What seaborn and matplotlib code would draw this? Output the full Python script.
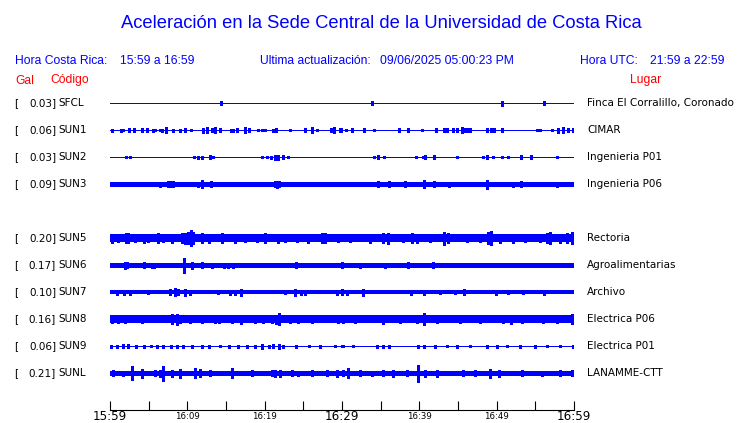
import matplotlib
matplotlib.use('Agg')
import matplotlib.pyplot as plt
import matplotlib.transforms as mtransforms
import seaborn as sns
import pandas as pd

# Station table (SUN4 row is empty in the reference)
codes = ["SFCL", "SUN1", "SUN2", "SUN3", None, "SUN5", "SUN6", "SUN7", "SUN8", "SUN9", "SUNL"]
gal = ["0.03", "0.06", "0.03", "0.09", None, "0.20", "0.17", "0.10", "0.16", "0.06", "0.21"]
places = ["Finca El Corralillo, Coronado", "CIMAR", "Ingenieria P01", "Ingenieria P06", None,
          "Rectoria", "Agroalimentarias", "Archivo", "Electrica P06", "Electrica P01", "LANAMME-CTT"]
# background noise half-amplitude of each trace (1 unit = 1/27 of trace spacing)
noise = [0.5, 0.5, 0.5, 2.5, None, 4.0, 2.5, 2.0, 3.2, 0.5, 2.5]

# bursts: minutes after 15:59 and half-amplitude
SFCL_T = [14.3, 33.9, 50.7, 56.1]
SFCL_A = [2, 2, 2.5, 2]
SUN1_T = [0.3, 1.38, 1.72, 2.5, 3.14, 4.09, 4.78, 5.51, 5.82, 6.46, 6.68, 7.24, 8.14, 9.0, 9.69,
          10.47, 12.06, 12.5, 13.14, 13.57, 14.22, 15.64, 15.94, 16.46, 17.45, 17.97, 19.09, 19.69,
          20.04, 21.12, 21.42, 23.31, 25.25, 26.07, 26.72, 28.57, 29.0, 29.74, 29.83, 30.52, 31.25,
          32.84, 34.18, 37.41, 38.49, 40.3, 42.11, 43.19, 43.53, 44.39, 44.82, 45.47, 45.9, 46.25,
          46.55, 48.7, 49.22, 49.65, 50.69, 55.17, 55.6, 57.11, 57.97, 58.53, 59.26, 59.91]
SUN1_A = [1.5, 1.5, 1, 2, 2, 2, 2, 1.5, 1, 1, 1.5, 3, 1.5, 1.5, 2,
          1, 2.5, 3, 2, 3, 2, 1.5, 1.5, 2, 3, 2, 1, 1,
          1, 1.5, 2, 1, 2, 3, 1, 2, 3, 2, 2, 1, 2,
          2, 1, 2, 2, 1, 2, 2, 2, 2, 2, 3, 2, 2,
          2, 2, 2, 2, 2, 1, 1, 1, 2.5, 3, 2, 2]
SUN2_T = [2.02, 2.63, 10.9, 11.42, 11.85, 12.93, 13.36, 19.69, 20.25, 20.77, 21.33, 21.6, 21.76,
          22.41, 22.97, 34.18, 34.7, 35.47, 39.52, 40.43, 40.73, 41.89, 44.91, 48.27, 48.79, 49.48,
          50.64, 51.51, 53.14, 54.39, 57.84]
SUN2_A = [1, 1, 1, 1.5, 1.5, 2, 1, 1, 1, 1.5, 2.5, 2.5, 2.5,
          2, 1, 1, 2, 1, 1, 1, 2, 2, 1, 1, 2, 1,
          1, 1, 2, 2, 1]
SUN3_T = [6.5, 7.54, 7.8, 8.1, 11.42, 11.94, 13.06, 21.33, 21.6, 21.85, 34.7, 36.03, 38.18, 40.64,
          41.89, 43.88, 47.34, 48.79, 50.6, 52.15, 53.19, 57.84]
SUN3_A = [2.5, 3, 3, 3, 2.5, 4, 3, 3, 3.5, 3, 3, 3, 3, 4,
          3, 2.5, 2, 4.5, 2, 2.5, 3, 2.5]
SUN5_T = [0.21, 1.07, 2.02, 2.28, 3.23, 4.44, 4.95, 6.16, 6.89, 7.97, 9.26, 9.69, 10.12, 10.43,
          10.77, 11.85, 12.8, 14.44, 16.16, 17.45, 18.96, 20.04, 21.76, 22.62, 24.13, 25.64, 27.37,
          27.8, 29.52, 31.03, 33.62, 35.34, 35.99, 37.93, 39.01, 39.65, 41.38, 43.19, 43.75, 46.12,
          47.84, 48.92, 49.22, 50.43, 52.15, 53.66, 55.6, 56.46, 56.89, 58.19, 59.05, 59.78]
SUN5_A = [4.5, 4, 5, 5, 4, 4.5, 4, 5, 4, 4.5, 5, 5.5, 6, 8,
          6, 5, 4.5, 5, 4.5, 4, 4, 5, 4.5, 4, 4, 4.5, 5,
          5, 4, 4, 4.5, 5, 5.5, 4, 5, 4.5, 4, 6.5, 5, 4,
          4, 6, 7, 4.5, 4.5, 4, 4, 5, 6, 4.5, 5, 6]
SUN6_T = [1.94, 2.15, 4.44, 5.38, 5.73, 9.61, 10.56, 11.85, 13.14, 14.78, 15.3, 15.94, 24.0,
          29.95, 32.33, 35.56, 38.58, 39.65, 40.95, 41.81]
SUN6_A = [3.5, 3, 3, 2.5, 2.5, 7.5, 3.5, 3, 2.5, 2.5, 2.5, 2.5, 3,
          3, 2.5, 2.5, 3, 2, 2, 3]
SUN7_T = [0.86, 1.81, 2.58, 4.87, 7.75, 8.4, 8.75, 9.69, 10.34, 13.92, 15.51, 16.16, 16.94, 22.62,
          23.92, 24.69, 25.21, 29.3, 29.95, 30.6, 32.67, 38.88, 40.6, 42.67, 44.61, 45.77, 49.91,
          51.51, 53.45, 56.12]
SUN7_A = [2.5, 2.5, 2.5, 2, 3, 4, 3, 3.5, 2.5, 2, 2.5, 2.5, 3.5, 2,
          3.5, 2.5, 2.5, 2.5, 3, 2.5, 3.5, 2.5, 2.5, 2, 2, 3, 2.5,
          2, 2, 2.5]
SUN8_T = [0.21, 1.07, 1.94, 2.8, 4.09, 5.38, 7.97, 8.62, 9.05, 10.34, 11.85, 13.57, 14.09, 15.73,
          16.94, 18.74, 19.82, 20.9, 21.42, 21.85, 23.27, 24.35, 26.07, 27.15, 28.14, 29.52, 30.17,
          31.68, 35.34, 37.5, 39.65, 40.64, 42.24, 45.26, 47.84, 49.13, 50.86, 51.81, 53.23, 56.03,
          57.76, 59.69]
SUN8_A = [3.5, 3.5, 3.5, 3, 3.5, 3, 5, 5.5, 4, 3.5, 3.5, 4, 3.5, 3.5,
          4.5, 3.5, 3.5, 4, 4.5, 6, 3.5, 4, 4, 3, 3, 3.5, 3.5,
          3.5, 4.5, 3.5, 3.5, 6, 3.5, 3.5, 3.5, 3, 3.5, 4.5, 4, 3.5,
          3.5, 5]
SUN9_T = [0.13, 0.86, 1.72, 2.37, 3.32, 4.44, 5.3, 6.03, 6.89, 7.88, 8.62, 9.48, 10.64, 11.85,
          12.8, 14.22, 15.38, 16.59, 17.67, 18.74, 19.69, 20.56, 21.12, 21.85, 22.41, 24.0, 25.73,
          27.15, 29.09, 29.95, 30.17, 31.46, 34.48, 35.34, 36.12, 39.87, 40.6, 42.02, 43.53, 44.91,
          46.55, 48.7, 49.99, 51.29, 53.01, 54.95, 56.46, 58.19, 59.91]
SUN9_A = [1.5, 1.5, 2, 2, 1.5, 1.5, 1, 1.5, 1.5, 1.5, 1.5, 1.5, 1.5, 1.5,
          1.5, 1, 1.5, 1.5, 1.5, 1.5, 2.5, 1.5, 2, 2.5, 1.5, 1.5, 1,
          1.5, 1, 1, 1, 1, 1.5, 1.5, 1.5, 1.5, 1.5, 1.5, 1, 1.5,
          1, 1.5, 1.5, 1, 1.5, 1.5, 1, 1, 1.5]
SUNL_T = [0.43, 1.72, 2.88, 4.18, 5.81, 6.46, 6.89, 7.97, 9.05, 10.99, 11.63, 12.93, 15.73, 18.31,
          20.9, 21.33, 21.98, 23.48, 24.35, 26.07, 28.01, 29.3, 30.17, 30.82, 32.33, 33.83, 35.34,
          36.64, 38.36, 39.87, 40.73, 42.24, 45.69, 47.19, 49.13, 50.34, 53.23, 55.82, 58.19, 59.78]
SUNL_A = [3, 2.5, 7, 4.5, 3, 3.5, 7.5, 3.5, 4.5, 5, 4, 3, 5, 3,
          3, 3.5, 3.5, 3, 2.5, 3, 3, 3.5, 3, 5, 3, 2.5, 3,
          3.5, 3, 8.5, 3.5, 3.5, 3, 3, 4.5, 3.5, 3, 2.5, 3, 3]

bursts = [(SFCL_T, SFCL_A), (SUN1_T, SUN1_A), (SUN2_T, SUN2_A), (SUN3_T, SUN3_A), None,
          (SUN5_T, SUN5_A), (SUN6_T, SUN6_A), (SUN7_T, SUN7_A), (SUN8_T, SUN8_A),
          (SUN9_T, SUN9_A), (SUNL_T, SUNL_A)]

tick_minutes = [0, 10, 20, 30, 40, 50, 60]
tick_labels = ["15:59", "16:09", "16:19", "16:29", "16:39", "16:49", "16:59"]
big_labels = ["15:59", "16:29", "16:59"]

BLUE = "#0000ff"
RED = "#ff0000"
SPACING = 27.0  # px between traces, amplitudes are in px

sns.set_style("white")
plt.rcParams['font.family'] = ['DejaVu Sans']
plt.rcParams['text.color'] = 'black'

W, H = 740, 423
fig = plt.figure(figsize=(W / 100, H / 100), dpi=100)

# axes from x=110..574 px, y=83..409 px
top_px, bot_px = 83, 409.5
ax = fig.add_axes([110 / W, 1 - bot_px / H, 464 / W, (bot_px - top_px) / H])

rows = []
for i, code in enumerate(codes):
    if code is None:
        continue
    rows.append({"idx": i, "code": code, "gal": gal[i], "place": places[i], "noise": noise[i]})
df = pd.DataFrame(rows)

px_to_pt = 72 / 100
for _, r in df.iterrows():
    i = r["idx"]
    lw = max(1.0, 2 * r["noise"]) * px_to_pt
    sns.lineplot(x=[0, 60], y=[i, i], ax=ax, color=BLUE, linewidth=lw,
                 solid_capstyle='butt', antialiased=False)
    t, a = bursts[i]
    a = [v / SPACING for v in a]
    ax.vlines(t, [i - v for v in a], [i + v for v in a], color=BLUE,
              linewidth=1.3 * px_to_pt, antialiased=False)

    # left labels and right place names
    yfig = 1 - (103 + i * SPACING) / H
    fig.text(14 / W, yfig, "[", fontsize=7.5, va='center', ha='left', color='black')
    fig.text(56 / W, yfig, r["gal"] + "]", fontsize=7.5, va='center', ha='right', color='black')
    fig.text(58.5 / W, yfig, r["code"], fontsize=7.5, va='center', ha='left', color='black')
    fig.text(587 / W, yfig, r["place"], fontsize=7.5, va='center', ha='left', color='black')

ax.set_xlim(0, 60)
ax.set_ylim(10 + (bot_px - 373) / SPACING, -(103 - top_px) / SPACING)
for s in ["top", "left", "right"]:
    ax.spines[s].set_visible(False)
ax.spines["bottom"].set_visible(True)
ax.spines["bottom"].set_color("black")
ax.spines["bottom"].set_linewidth(0.8)
ax.spines["bottom"].set_zorder(5)
ax.set_yticks([])
ax.set_xticks(tick_minutes)
ax.set_xticks(range(0, 61, 5), minor=True)
ax.tick_params(axis='x', which='both', bottom=True, direction='in', length=6.5, width=0.8,
               color='black', labelbottom=False)
ax.set_xlabel("")
ax.set_ylabel("")

# time labels below the axis, placed from the minute values
xform = mtransforms.blended_transform_factory(ax.transData, fig.transFigure)
for m, lab in zip(tick_minutes, tick_labels):
    big = lab in big_labels
    ax.text(m, 1 - (419.5 if big else 418.5) / H, lab, transform=xform,
            fontsize=8.6 if big else 6.2, ha='center', va='baseline', color='black',
            clip_on=False)

# header texts
hdr = dict(family=['Liberation Sans', 'DejaVu Sans'], va='center', ha='left')
fig.text(381.5 / W, 1 - 23 / H, "Aceleración en la Sede Central de la Universidad de Costa Rica",
         fontsize=13.2, color=BLUE, family=['Liberation Sans', 'DejaVu Sans'],
         ha='center', va='center')
fig.text(15 / W, 1 - 60.5 / H, "Hora Costa Rica:", fontsize=8.7, color=BLUE, **hdr)
fig.text(120 / W, 1 - 60.5 / H, "15:59 a 16:59", fontsize=8.7, color=BLUE, **hdr)
fig.text(260 / W, 1 - 60.5 / H, "Ultima actualización:", fontsize=8.7, color=BLUE, **hdr)
fig.text(380 / W, 1 - 60.5 / H, "09/06/2025 05:00:23 PM", fontsize=8.7, color=BLUE, **hdr)
fig.text(580 / W, 1 - 60.5 / H, "Hora UTC:", fontsize=8.7, color=BLUE, **hdr)
fig.text(650 / W, 1 - 60.5 / H, "21:59 a 22:59", fontsize=8.7, color=BLUE, **hdr)
fig.text(15 / W, 1 - 80.5 / H, "Gal", fontsize=8.7, color=RED, **hdr)
fig.text(50 / W, 1 - 80.5 / H, "Código", fontsize=8.7, color=RED, **hdr)
fig.text(630 / W, 1 - 80.5 / H, "Lugar", fontsize=8.7, color=RED, **hdr)

fig.savefig("out.png", dpi=100)
